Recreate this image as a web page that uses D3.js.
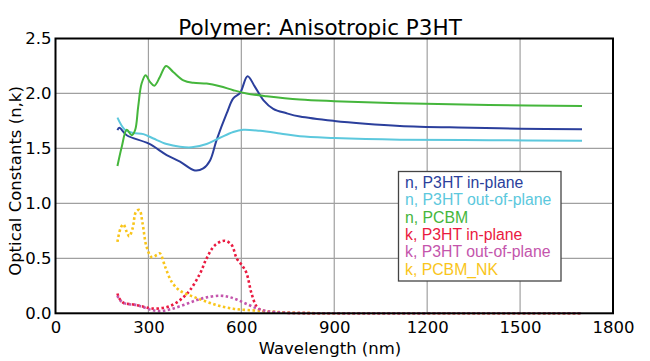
<!DOCTYPE html>
<html>
<head>
<meta charset="utf-8">
<script src="https://cdn.jsdelivr.net/npm/d3@7"></script>
<style>
  html, body { margin: 0; padding: 0; background: #fff; }
  svg { display: block; }
</style>
</head>
<body>
<svg id="chart" width="650" height="361"></svg>
<script>
// ---------- data ----------
const titleText = "Polymer: Anisotropic P3HT";
const xLabel = "Wavelength (nm)";
const yLabel = "Optical Constants (n,k)";
const xTicks = [0, 300, 600, 900, 1200, 1500, 1800];
const yTicks = [0.0, 0.5, 1.0, 1.5, 2.0, 2.5];

const nP3HTin = [
  [200,1.667],[206,1.687],[230,1.62],[300,1.545],[359,1.44],[402,1.38],[450,1.30],
  [477,1.318],[499,1.39],[520,1.575],[553,1.82],[574,1.955],[596,2.005],[620,2.157],
  [644,2.06],[671,1.94],[703,1.86],[746,1.82],[789,1.79],[900,1.75],[1000,1.725],
  [1112,1.705],[1300,1.69],[1500,1.68],[1700,1.675]
];
const nP3HTout = [
  [200,1.78],[224,1.67],[251,1.64],[284,1.63],[316,1.59],[359,1.54],[402,1.515],
  [440,1.51],[488,1.54],[531,1.597],[574,1.65],[606,1.67],[660,1.66],[725,1.636],
  [789,1.61],[900,1.595],[1112,1.58],[1400,1.575],[1700,1.57]
];
const nPCBM = [
  [200,1.34],[214,1.515],[230,1.67],[246,1.62],[257,1.666],[267,1.88],[278,2.09],
  [291,2.166],[305,2.105],[319,2.07],[337,2.15],[357,2.25],[380,2.196],[413,2.12],
  [445,2.097],[488,2.09],[531,2.066],[574,2.03],[617,2.0],[682,1.975],[789,1.945],
  [900,1.93],[1112,1.91],[1400,1.895],[1700,1.885]
];
const kP3HTin = [
  [200,0.18],[206,0.136],[219,0.096],[251,0.08],[284,0.06],[305,0.045],[337,0.045],
  [370,0.066],[402,0.12],[434,0.21],[467,0.364],[488,0.50],[515,0.62],[547,0.66],
  [569,0.62],[585,0.50],[604,0.43],[617,0.364],[633,0.18],[650,0.06],[671,0.02],
  [714,0.008],[800,0.002],[1000,0],[1300,0],[1700,0]
];
const kP3HTout = [
  [200,0.16],[208,0.12],[224,0.09],[262,0.075],[284,0.055],[311,0.03],[337,0.02],
  [370,0.036],[413,0.075],[456,0.12],[488,0.145],[531,0.16],[558,0.15],[585,0.125],
  [617,0.085],[650,0.045],[682,0.02],[750,0.005],[900,0],[1300,0],[1700,0]
];
const kPCBM = [
  [200,0.65],[210,0.773],[219,0.81],[230,0.74],[238,0.70],[249,0.773],[260,0.924],
  [271,0.94],[281,0.82],[294,0.605],[311,0.51],[327,0.53],[337,0.545],[354,0.424],
  [375,0.287],[402,0.205],[445,0.151],[488,0.105],[531,0.066],[574,0.042],[617,0.03],
  [680,0.02],[750,0.006],[900,0],[1300,0],[1700,0]
];

const seriesNames = ["n, P3HT in-plane","n, P3HT out-of-plane","n, PCBM",
                     "k, P3HT in-plane","k, P3HT out-of-plane","k, PCBM_NK"];
const seriesData = [nP3HTin, nP3HTout, nPCBM, kP3HTin, kP3HTout, kPCBM];
const seriesColors = ["#2b3f9c","#5cc8dd","#45b63c","#ea1a40","#c455ac","#f9c51a"];
const seriesDashed = [false,false,false,true,true,true];

// ---------- layout ----------
const svg = d3.select("#chart");
const M = {left: 55.5, top: 38.5, right: 613, bottom: 313.3};
const x = d3.scaleLinear().domain([0,1800]).range([M.left, M.right]);
const y = d3.scaleLinear().domain([0,2.5]).range([M.bottom, M.top]);

// gridlines
svg.append("g").selectAll("line").data(xTicks.slice(1,-1)).join("line")
  .attr("x1", d=>x(d)).attr("x2", d=>x(d)).attr("y1", M.top).attr("y2", M.bottom)
  .attr("stroke", "#a0a0a0").attr("stroke-width", 1.2);
svg.append("g").selectAll("line").data(yTicks.slice(1,-1)).join("line")
  .attr("x1", M.left).attr("x2", M.right).attr("y1", d=>y(d)).attr("y2", d=>y(d))
  .attr("stroke", "#a0a0a0").attr("stroke-width", 1.2);

// lines
const line = d3.line().x(d=>x(d[0])).y(d=>y(d[1])).curve(d3.curveCatmullRom.alpha(0.5));
const order = [0,1,2,3,5,4];
order.forEach(i => {
  svg.append("path").datum(seriesData[i])
    .attr("d", line)
    .attr("fill", "none")
    .attr("stroke", seriesColors[i])
    .attr("stroke-width", seriesDashed[i] ? 2.6 : 2)
    .attr("stroke-dasharray", seriesDashed[i] ? "2.5,2.5" : null)
    .attr("stroke-linejoin", "round");
});

// frame
svg.append("rect").attr("x", M.left).attr("y", M.top)
  .attr("width", M.right - M.left).attr("height", M.bottom - M.top)
  .attr("fill", "none").attr("stroke", "#000").attr("stroke-width", 2);

// axes (tick labels only)
const font = "'DejaVu Sans', sans-serif";
const xAxis = d3.axisBottom(x).tickValues(xTicks).tickSize(0).tickPadding(8).tickFormat(d3.format("d"));
const gx = svg.append("g").attr("transform", `translate(0,${M.bottom})`).call(xAxis);
gx.select(".domain").remove();
gx.selectAll("text").attr("font-family", font).attr("font-size", 16.5).attr("fill", "#000");

const yAxis = d3.axisLeft(y).tickValues(yTicks).tickSize(0).tickPadding(4).tickFormat(d3.format(".1f"));
const gy = svg.append("g").attr("transform", `translate(${M.left},0)`).call(yAxis);
gy.select(".domain").remove();
gy.selectAll("text").attr("font-family", font).attr("font-size", 16.5).attr("fill", "#000");

// title & labels
svg.append("text").attr("x", 320).attr("y", 35).attr("text-anchor", "middle")
  .attr("font-family", font).attr("font-size", 21.5).attr("fill", "#000").text(titleText);
svg.append("text").attr("x", 330).attr("y", 354).attr("text-anchor", "middle")
  .attr("font-family", font).attr("font-size", 16.5).attr("fill", "#000").text(xLabel);
svg.append("text").attr("transform", "translate(21,181) rotate(-90)").attr("text-anchor", "middle")
  .attr("font-family", font).attr("font-size", 16.5).attr("fill", "#000").text(yLabel);

// legend
const lg = svg.append("g");
lg.append("rect").attr("x", 398.5).attr("y", 171.5).attr("width", 162.5).attr("height", 109.5)
  .attr("fill", "#fff").attr("stroke", "#444").attr("stroke-width", 1.3);
lg.selectAll("text").data(seriesNames).join("text")
  .attr("x", 405).attr("y", (d,i)=>187.8 + i*17.4)
  .attr("font-family", "'Liberation Sans', Arial, sans-serif").attr("font-size", 15.8)
  .attr("fill", (d,i)=>seriesColors[i]).text(d=>d);
</script>
</body>
</html>
